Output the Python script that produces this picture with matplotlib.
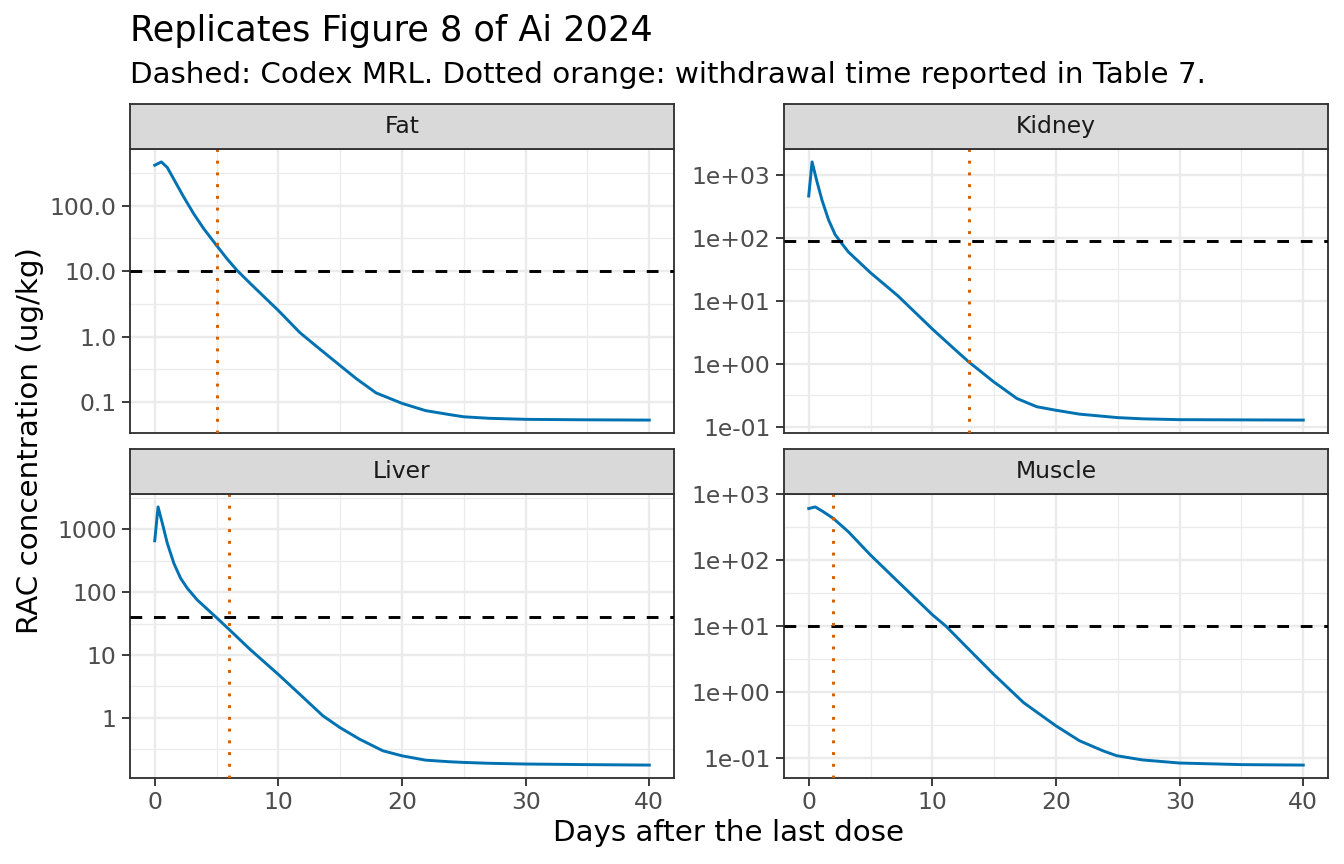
import numpy as np
import matplotlib.pyplot as plt
from matplotlib.ticker import FixedLocator, FixedFormatter, NullFormatter

# Residue curves (days after last dose, RAC ug/kg)
fat_days = [0, 0.54, 1.02, 1.69, 2.36, 3.16, 3.97, 5.0, 5.84, 6.65, 7.72, 10, 11.74, 13.08, 15,
            16.3, 17.9, 20, 21.9, 23.8, 25, 27, 30, 35, 40]
fat_rac = [414, 466, 382, 226, 134, 74.8, 44.3, 24.7, 15.5, 10.3, 6.5, 2.5, 1.15, 0.71, 0.36,
           0.228, 0.138, 0.0955, 0.074, 0.0645, 0.0595, 0.0565, 0.0544, 0.0535, 0.053]

kidney_days = [0, 0.27, 0.67, 1.07, 1.6, 2.14, 2.54, 3.21, 5, 7.22, 10, 11.76, 12.97, 14.97,
               16.84, 18.45, 20, 21.9, 23.8, 25, 27, 30, 35, 40]
kidney_rac = [466, 1625, 785, 403, 195, 113, 88.6, 60, 28, 12, 3.57, 1.73, 1.06, 0.514,
              0.28, 0.207, 0.182, 0.158, 0.146, 0.139, 0.133, 0.129, 0.128, 0.127]

liver_days = [0, 0.27, 0.62, 1.02, 1.55, 2.09, 2.63, 3.43, 5.04, 5.98, 7.72, 10, 11.74, 13.6,
              15, 16.57, 18.45, 20, 21.9, 23.8, 25, 27, 30, 35, 40]
liver_rac = [661, 2290, 1245, 600, 288, 167, 116, 75.5, 38.6, 25.9, 12.2, 4.88, 2.35, 1.07,
             0.69, 0.453, 0.296, 0.246, 0.21, 0.198, 0.193, 0.187, 0.182, 0.178, 0.175]

muscle_days = [0, 0.53, 1.2, 2.0, 3.21, 5, 7.49, 10, 11.1, 12.57, 14.97, 17.38, 20, 21.9,
               23.8, 24.9, 27, 30, 35, 40]
muscle_rac = [611, 647, 543, 431, 271, 120, 42.4, 14.9, 10, 5.25, 1.85, 0.69, 0.306, 0.182,
              0.128, 0.108, 0.093, 0.0835, 0.079, 0.0777]

tissues = ["Fat", "Kidney", "Liver", "Muscle"]
codex_mrl = [10, 90, 40, 10]
withdrawal_days = [5, 13, 6, 2]

y_ticks = [[0.1, 1, 10, 100], [0.1, 1, 10, 100, 1000], [1, 10, 100, 1000], [0.1, 1, 10, 100, 1000]]
y_labels = [["0.1", "1.0", "10.0", "100.0"],
            ["1e-01", "1e+00", "1e+01", "1e+02", "1e+03"],
            ["1", "10", "100", "1000"],
            ["1e-01", "1e+00", "1e+01", "1e+02", "1e+03"]]
x_ticks = [0, 10, 20, 30, 40]

curves = [(fat_days, fat_rac), (kidney_days, kidney_rac), (liver_days, liver_rac), (muscle_days, muscle_rac)]

W, H = 1344, 864
fig = plt.figure(figsize=(7, 4.5), dpi=192)

# panel boxes in pixels
col_x = [(130, 674), (784, 1328)]
row_y = [(149, 433), (494, 778)]
strip_h = 45

grey20 = "#333333"
grey30 = "#4D4D4D"

for i, name in enumerate(tissues):
    r, c = divmod(i, 2)
    x0, x1 = col_x[c]
    y0, y1 = row_y[r]
    ax = fig.add_axes([x0 / W, 1 - y1 / H, (x1 - x0) / W, (y1 - y0) / H])
    days, rac = curves[i]
    ax.set_yscale("log")
    ax.plot(days, rac, color="#0072B2", lw=1.1, zorder=3, solid_joinstyle="round")
    ax.axhline(codex_mrl[i], color="black", ls=(0, (4, 4)), lw=1.1, zorder=4)
    ax.axvline(withdrawal_days[i], color="#D55E00", ls=(0, (1, 3)), lw=1.1, zorder=4)

    # ggplot-style 5% expansion in log space
    lo, hi = np.log10(min(rac)), np.log10(max(rac))
    pad = 0.05 * (hi - lo)
    ax.set_ylim(10 ** (lo - pad), 10 ** (hi + pad))
    ax.set_xlim(-2, 42)

    ax.yaxis.set_major_locator(FixedLocator(y_ticks[i]))
    ax.yaxis.set_major_formatter(FixedFormatter(y_labels[i]))
    minors = [10 ** (k + 0.5) for k in range(-3, 4)]
    ax.yaxis.set_minor_locator(FixedLocator(minors))
    ax.yaxis.set_minor_formatter(NullFormatter())
    ax.xaxis.set_major_locator(FixedLocator(x_ticks))
    ax.xaxis.set_minor_locator(FixedLocator([5, 15, 25, 35]))

    ax.grid(which="major", color="#EBEBEB", lw=0.9, zorder=0)
    ax.grid(which="minor", color="#EBEBEB", lw=0.45, zorder=0)
    ax.set_axisbelow(True)
    ax.tick_params(which="major", length=3, width=0.7, color=grey20, labelcolor=grey30, labelsize=8.8, pad=2)
    ax.tick_params(which="minor", length=0)
    if r == 0:
        ax.tick_params(axis="x", which="both", bottom=False, labelbottom=False)
    for sp in ax.spines.values():
        sp.set_color(grey20)
        sp.set_linewidth(0.7)

    # strip on top of each panel
    sax = fig.add_axes([x0 / W, 1 - y0 / H, (x1 - x0) / W, strip_h / H])
    sax.set_facecolor("#D9D9D9")
    sax.set_xticks([])
    sax.set_yticks([])
    for sp in sax.spines.values():
        sp.set_color(grey20)
        sp.set_linewidth(0.7)
    sax.text(0.5, 0.5, name, ha="center", va="center", fontsize=8.8, color="#1A1A1A", transform=sax.transAxes)

fig.text(130 / W, 1 - 41 / H, "Replicates Figure 8 of Ai 2024", fontsize=13.2, ha="left", va="baseline")
fig.text(130 / W, 1 - 83 / H, "Dashed: Codex MRL. Dotted orange: withdrawal time reported in Table 7.",
         fontsize=11, ha="left", va="baseline")
fig.text(729 / W, 1 - 833 / H, "Days after the last dose", fontsize=11, ha="center", va="center")
fig.text(30 / W, 1 - 441 / H, "RAC concentration (ug/kg)", fontsize=11, ha="center", va="center", rotation=90)

fig.savefig("out.png", dpi=192)
